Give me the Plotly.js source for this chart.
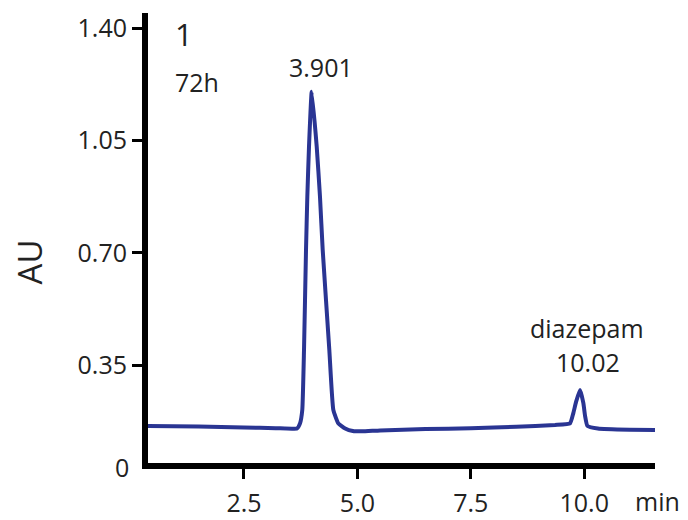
<!DOCTYPE html>
<html>
<head>
<meta charset="utf-8">
<script src="https://cdn.plot.ly/plotly-3.0.1.min.js"></script>
<style>html,body{margin:0;padding:0;background:#fff;}#chart{width:688px;height:520px;}</style>
</head>
<body>
<div id="chart"></div>
<script>
// Retention time (min)
const timeMin = [0.32, 1.5, 2.5, 3.2, 3.668, 3.735, 3.785, 3.823, 3.867, 3.896, 3.933, 3.993,
  4.103, 4.175, 4.235, 4.381, 4.469, 4.579, 4.73, 4.9, 5.1, 5.5, 6.5, 7.5, 8.5, 9.356,
  9.687, 9.76, 9.82, 9.908, 9.98, 10.02, 10.07, 10.3, 11.0, 11.56];
// Absorbance (AU)
const absorbance = [0.160, 0.158, 0.155, 0.153, 0.152, 0.168, 0.210, 0.397, 0.709, 0.875, 1.031, 1.2025,
  1.031, 0.875, 0.709, 0.397, 0.210, 0.168, 0.152, 0.144, 0.143, 0.146, 0.150, 0.153, 0.157, 0.163,
  0.168, 0.200, 0.235, 0.272, 0.232, 0.190, 0.160, 0.152, 0.148, 0.147];

const yTickVals = [0.35, 0.70, 1.05, 1.40];
const yTickText = ["0.35", "0.70", "1.05", "1.40"];
const xTickVals = [2.5, 5.0, 7.5, 10.0];
const xTickText = ["2.5", "5.0", "7.5", "10.0"];

const FONT = '"Open Sans", "Noto Sans", sans-serif';
const TXT = '#222';

const trace = {
  x: timeMin, y: absorbance, type: 'scatter', mode: 'lines',
  line: {color: '#2a3593', width: 4, shape: 'spline', smoothing: 0.4},
  hoverinfo: 'skip'
};

const layout = {
  width: 688, height: 520,
  margin: {l: 148, r: 33, t: 13, b: 57},
  paper_bgcolor: '#fff', plot_bgcolor: '#fff',
  showlegend: false,
  font: {family: FONT, color: TXT, size: 25},
  xaxis: {
    range: [0.384, 11.56], showgrid: false, zeroline: false,
    showline: true, linecolor: '#000', linewidth: 6,
    ticks: 'outside', ticklen: 10, tickwidth: 3, tickcolor: '#000',
    tickvals: xTickVals, ticktext: xTickText, ticklabelstandoff: 3,
    tickfont: {family: FONT, size: 25, color: TXT}
  },
  yaxis: {
    range: [0.0443, 1.448], showgrid: false, zeroline: false,
    showline: true, linecolor: '#000', linewidth: 6,
    ticks: 'outside', ticklen: 10, tickwidth: 3, tickcolor: '#000',
    tickvals: yTickVals, ticktext: yTickText, ticklabelstandoff: 0,
    tickfont: {family: FONT, size: 25, color: TXT}
  },
  annotations: [
    {text: '0', xref: 'paper', yref: 'paper', x: -0.0345, y: -0.0082, xanchor: 'right', yanchor: 'middle', showarrow: false, font: {size: 25}},
    {text: 'AU', xref: 'paper', yref: 'paper', x: -0.2337, y: 0.4469, xanchor: 'center', yanchor: 'middle', textangle: -90, showarrow: false, font: {size: 33}},
    {text: 'min', xref: 'paper', yref: 'paper', x: 1.005, y: -0.0846, xanchor: 'center', yanchor: 'middle', showarrow: false, font: {size: 25}},
    {text: '1', xref: 'x', yref: 'y', x: 0.935, y: 1.384, xanchor: 'left', yanchor: 'middle', showarrow: false, font: {size: 31}},
    {text: '72h', xref: 'x', yref: 'y', x: 0.935, y: 1.233, xanchor: 'left', yanchor: 'middle', showarrow: false, font: {size: 25}},
    {text: '3.901', xref: 'x', yref: 'y', x: 4.2, y: 1.279, xanchor: 'center', yanchor: 'middle', showarrow: false, font: {size: 25}},
    {text: 'diazepam', xref: 'x', yref: 'y', x: 10.06, y: 0.465, xanchor: 'center', yanchor: 'middle', showarrow: false, font: {size: 25}},
    {text: '10.02', xref: 'x', yref: 'y', x: 10.09, y: 0.359, xanchor: 'center', yanchor: 'middle', showarrow: false, font: {size: 25}}
  ]
};

Plotly.newPlot('chart', [trace], layout, {displayModeBar: false, staticPlot: true});
</script>
</body>
</html>
